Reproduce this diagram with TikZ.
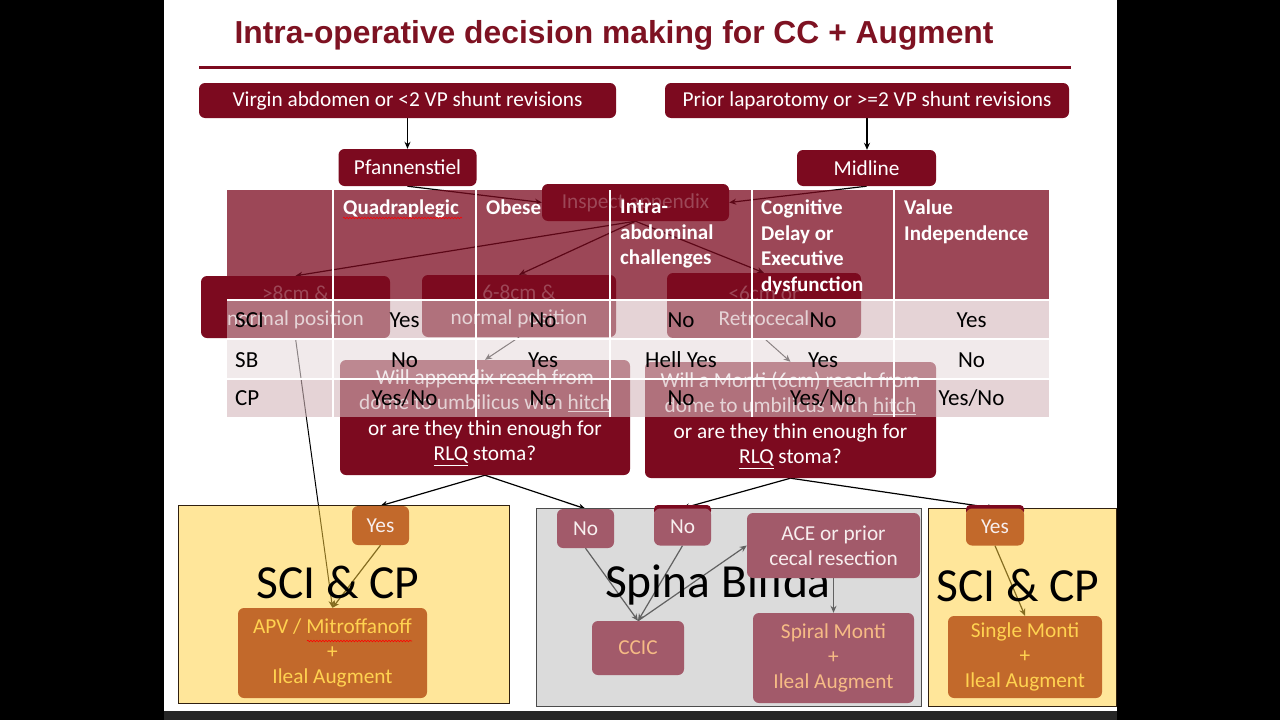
\documentclass[tikz,border=0pt]{standalone}
\usepackage{fontspec}
\setmainfont{Carlito}
\newfontfamily\titlefont{Liberation Sans}
\usetikzlibrary{arrows.meta,decorations.pathmorphing}
\definecolor{maroon}{HTML}{7C0A1F}
\definecolor{titlered}{HTML}{7E1222}
\definecolor{boxorange}{HTML}{C2692B}
\definecolor{boxmauve}{HTML}{A25A6A}
\definecolor{txtyellow}{HTML}{FFD250}
\definecolor{txtpeach}{HTML}{F6BB85}
\definecolor{txtwhite}{HTML}{F7EEEE}
\definecolor{panelyellow}{HTML}{FFD03F}
\definecolor{panelgray}{HTML}{BABABA}
\definecolor{rowA}{HTML}{D4B7BB}
\definecolor{rowB}{HTML}{E9DCDE}
\definecolor{slidebar}{HTML}{262626}
\newcommand\fsz[2]{\fontsize{#1}{#2}\selectfont}
\pgfdeclarelayer{bg}
\pgfdeclarelayer{lines}
\pgfdeclarelayer{panels}
\pgfdeclarelayer{tbl}
\pgfdeclarelayer{tbltext}
\pgfsetlayers{bg,lines,panels,main,tbl,tbltext}
\begin{document}
\begin{tikzpicture}[x=1pt,y=-1pt,
  mbox/.style={fill=maroon, rounded corners=6pt, inner sep=0pt, align=center, text=white, font=\fsz{21.3}{25}},
  qbox/.style={mbox, font=\fsz{21.3}{25.5}},
  obox/.style={fill=boxorange, rounded corners=6pt, inner sep=0pt, align=center, font=\fsz{21.3}{25}},
  vbox/.style={fill=boxmauve, rounded corners=6pt, inner sep=0pt, align=center, font=\fsz{21.3}{25}},
  arr/.style={-{Stealth[length=7pt,width=6pt]}, line width=1.2pt, black},
  panel/.style={fill opacity=0.52, line width=1pt},
  bigtxt/.style={font=\fsz{47.5}{52}, text=black, inner sep=0pt},
  hdr/.style={text=white, font=\bfseries\fsz{21}{25.5}, align=left, anchor=north west, inner sep=0pt},
  tval/.style={font=\fsz{23}{26}, text=black, inner sep=0pt, anchor=base},
  squiggle/.style={red, line width=0.6pt, decorate, decoration={snake, amplitude=0.8pt, segment length=3pt}}
]
\useasboundingbox (0,0) rectangle (1280,720);
\begin{pgfonlayer}{bg}
  \fill[black] (0,0) rectangle (1280,720);
  \fill[white] (164,0) rectangle (1117,711);
  \fill[slidebar] (164,711) rectangle (1117,720);
\end{pgfonlayer}

% title
\node[font=\titlefont\bfseries\fsz{31.8}{36}, text=titlered, inner sep=0pt] (title) at (614,35) {Intra-operative decision making for CC + Augment};
\draw[maroon, line width=3pt] (199,67) -- (1071,67);

% upper flowchart
\node[mbox, minimum width=417pt, minimum height=35pt] (virgin) at (407.5,100.5) {Virgin abdomen or <2 VP shunt revisions};
\node[mbox, minimum width=404pt, minimum height=35pt] (prior) at (867,100.5) {Prior laparotomy or >=2 VP shunt revisions};
\node[mbox, minimum width=138pt, minimum height=37pt] (pfann) at (407.5,167.5) {Pfannenstiel};
\node[mbox, minimum width=139pt, minimum height=36pt] (midline) at (866.5,168) {Midline};
\node[mbox, minimum width=187pt, minimum height=37pt] (inspect) at (635.5,202.5) {Inspect appendix};
\node[mbox, minimum width=189pt, minimum height=62pt] (big8) at (295.5,307) {>8cm \&\\normal position};
\node[mbox, minimum width=194pt, minimum height=62pt] (mid68) at (519,306) {6-8cm \&\\normal position};
\node[mbox, minimum width=194pt, minimum height=65pt] (small6) at (764,305.5) {<6cm or\\Retrocecal};
\node[qbox, minimum width=290pt, minimum height=115pt] (q1) at (485,417.5) {Will appendix reach from\\dome to umbilicus with \underline{hitch}\\or are they thin enough for\\\underline{RLQ} stoma?};
\node[qbox, minimum width=291pt, minimum height=116pt] (q2) at (790.5,420) {Will a Monti (6cm) reach from\\dome to umbilicus with \underline{hitch}\\or are they thin enough for\\\underline{RLQ} stoma?};

% bottom panels
\begin{pgfonlayer}{panels}
  \filldraw[panel, fill=panelyellow, draw=black!75!brown] (178,505) rectangle (509,703);
  \filldraw[panel, fill=panelgray, draw=black!70] (536,508) rectangle (921,706);
  \filldraw[panel, fill=panelyellow, draw=black!75!brown] (928,508) rectangle (1116,706);
\end{pgfonlayer}
\node[bigtxt] (sciL) at (338,582) {SCI \& CP};
\node[bigtxt] (sb) at (718,585) {Spina Bifida};
\node[bigtxt] (sciR) at (1018,585) {SCI \& CP};

% maroon tops peeking above the panels
\fill[maroon, rounded corners=4pt] (654,505) rectangle (711,515);
\fill[maroon, rounded corners=4pt] (966,505) rectangle (1024,515);

\node[obox, text=txtwhite, minimum width=57pt, minimum height=39pt] (yesL) at (380.5,525.5) {Yes};
\node[obox, text=txtyellow, minimum width=189pt, minimum height=90pt] (apv) at (332.5,653) {APV / Mitroffanoff\\+\\Ileal Augment};
\node[vbox, text=txtwhite, minimum width=57pt, minimum height=39pt] (noA) at (585.5,528.5) {No};
\node[vbox, text=txtwhite, minimum width=57pt, minimum height=37pt] (noB) at (682.5,527) {No};
\node[vbox, text=txtwhite, minimum width=173pt, minimum height=65pt] (ace) at (833.5,545.5) {ACE or prior\\cecal resection};
\node[vbox, text=txtpeach, minimum width=92pt, minimum height=54pt] (ccic) at (638,648) {CCIC};
\node[vbox, text=txtpeach, minimum width=161pt, minimum height=90pt] (spiral) at (833.5,658) {Spiral Monti\\+\\Ileal Augment};
\node[obox, text=txtwhite, minimum width=58pt, minimum height=37pt] (yesR) at (995,527) {Yes};
\node[obox, text=txtyellow, minimum width=154pt, minimum height=82pt] (single) at (1025,657) {Single Monti\\+\\Ileal Augment};

\draw[squiggle] (307,641) -- (412,641);

% connectors
\begin{pgfonlayer}{lines}
  \draw[arr] (virgin.south) -- (virgin.south |- pfann.north);
  \draw[arr] (prior.south) -- (prior.south |- midline.north);
  \draw[arr] (pfann.south) -- (inspect.west);
  \draw[arr] (midline.south) -- (inspect.east);
  \draw[arr] (inspect.south) -- (big8.north);
  \draw[arr] (inspect.south) -- (mid68.north);
  \draw[arr] (inspect.south) -- (small6.north);
  \draw[arr, line width=1pt] (mid68.south) -- (q1.north);
  \draw[arr, line width=1pt] (small6.south) -- (q2.north);
  \draw[arr, line width=1pt] (big8.south) -- (apv.north);
  \draw[arr] (q1.south) -- (yesL.north);
  \draw[arr] (q1.south) -- (noA.north);
  \draw[arr] (q2.south) -- (noB.north);
  \draw[arr] (q2.south) -- (yesR.north);
  \draw[arr] (yesL.south) -- (apv.north);
  \draw[arr] (noA.south) -- (ccic.north);
  \draw[arr] (noB.south) -- (ccic.north);
  \draw[arr] (ccic.north) -- (ace.west);
  \draw[arr] (ace.south) -- (spiral.north);
  \draw[arr] (yesR.south) -- (single.north);
\end{pgfonlayer}

% table
\begin{pgfonlayer}{tbl}
  \fill[maroon, fill opacity=0.75] (227,190) rectangle (1049,300);
  \fill[rowA, fill opacity=0.6] (227,300) rectangle (1049,339);
  \fill[rowB, fill opacity=0.6] (227,339) rectangle (1049,379);
  \fill[rowA, fill opacity=0.6] (227,379) rectangle (1049,417);
  \draw[white, line width=1.5pt] (227,300) -- (1049,300) (227,339) -- (1049,339) (227,379) -- (1049,379);
  \foreach \xx in {333,476,610,752,894} {\draw[white, line width=1.5pt] (\xx,190) -- (\xx,417);}
\end{pgfonlayer}
\begin{pgfonlayer}{tbltext}
  \node[hdr] (h2) at (343,200) {Quadraplegic};
  \node[hdr] (h3) at (486,200) {Obese};
  \node[hdr] (h4) at (620,200) {Intra-\\abdominal\\challenges};
  \node[hdr] (h5) at (761,200) {Cognitive\\Delay or\\Executive\\dysfunction};
  \node[hdr] (h6) at (904,200) {Value\\Independence};
  \draw[squiggle] (343,218) -- (462,218);
  \node[tval, anchor=base west] (l1) at (235,327.5) {SCI};
  \node[tval, anchor=base west] (l2) at (235,367) {SB};
  \node[tval, anchor=base west] (l3) at (235,405.5) {CP};
  \node[tval] (r1c2) at (404.5,327.5) {Yes};
  \node[tval] (r1c3) at (543,327.5) {No};
  \node[tval] (r1c4) at (681,327.5) {No};
  \node[tval] (r1c5) at (823,327.5) {No};
  \node[tval] (r1c6) at (971.5,327.5) {Yes};
  \node[tval] (r2c2) at (404.5,367) {No};
  \node[tval] (r2c3) at (543,367) {Yes};
  \node[tval] (r2c4) at (681,367) {Hell Yes};
  \node[tval] (r2c5) at (823,367) {Yes};
  \node[tval] (r2c6) at (971.5,367) {No};
  \node[tval] (r3c2) at (404.5,405.5) {Yes/No};
  \node[tval] (r3c3) at (543,405.5) {No};
  \node[tval] (r3c4) at (681,405.5) {No};
  \node[tval] (r3c5) at (823,405.5) {Yes/No};
  \node[tval] (r3c6) at (971.5,405.5) {Yes/No};
\end{pgfonlayer}
\end{tikzpicture}
\end{document}
